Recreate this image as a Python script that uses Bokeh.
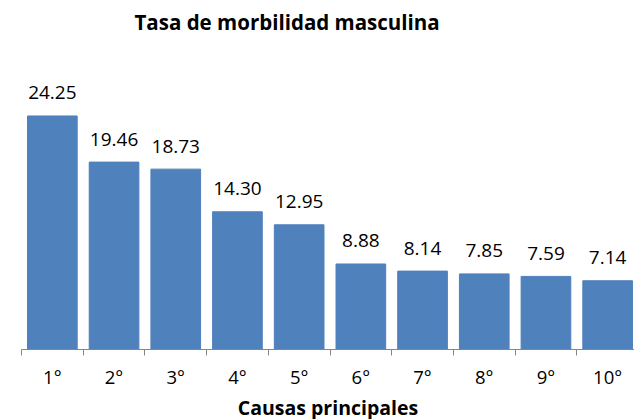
from bokeh.plotting import figure
from bokeh.models import ColumnDataSource, Range1d, FixedTicker
from bokeh.core.properties import value
from bokeh.embed import file_html
from bokeh.resources import INLINE

categories = ["1°", "2°", "3°", "4°", "5°", "6°", "7°", "8°", "9°", "10°"]
rates = [24.25, 19.46, 18.73, 14.30, 12.95, 8.88, 8.14, 7.85, 7.59, 7.14]
rate_labels = ["24.25", "19.46", "18.73", "14.30", "12.95", "8.88", "8.14", "7.85", "7.59", "7.14"]

FONT = "Open Sans"
centers = [i + 0.5 for i in range(len(categories))]
src = ColumnDataSource(dict(x=centers, top=rates, lbl=rate_labels))

W, H = 634, 419
left, top_b, bottom_b = 21, 39, 71
frame_h = H - top_b - bottom_b
frame_w = W - left
cat_px = 61.7
px_per_unit = 9.63
p = figure(width=W, height=H, frame_width=frame_w, frame_height=frame_h,
           output_backend="svg", toolbar_location=None,
           x_range=Range1d(0, frame_w / cat_px), y_range=Range1d(0, frame_h / px_per_unit),
           y_axis_location=None, min_border_left=left, min_border_right=0,
           min_border_top=top_b, min_border_bottom=bottom_b,
           title="Tasa de morbilidad masculina")
p.outline_line_color = None
p.xgrid.visible = False
p.ygrid.visible = False
p.background_fill_color = "white"

p.title.text_font = FONT
p.title.text_font_size = "20.5px"
p.title.text_font_style = "bold"
p.title.align = "left"
p.title.offset = 134 - left
p.title.text_color = "black"

p.vbar(x="x", top="top", width=0.805, bottom=0, source=src,
       fill_color="#4F81BD", line_color="#4F81BD")
p.text(x="x", y="top", text="lbl", source=src, text_align="center",
       text_baseline="alphabetic", y_offset=-23, text_font=value(FONT),
       text_font_size="19px", text_color="black")

ax = p.xaxis[0]
ax.ticker = FixedTicker(ticks=centers, minor_ticks=list(range(len(categories) + 1)))
ax.major_label_overrides = {c: lab for c, lab in zip(centers, categories)}
ax.major_tick_out = 0
ax.major_tick_in = 0
ax.minor_tick_out = 6
ax.minor_tick_in = 0
ax.axis_line_color = "#868686"
ax.minor_tick_line_color = "#868686"
ax.major_label_text_font = FONT
ax.major_label_text_font_size = "18.5px"
ax.major_label_text_color = "black"
ax.major_label_standoff = 8
ax.axis_label = "Causas principales"
ax.axis_label_text_font = FONT
ax.axis_label_text_font_size = "19.5px"
ax.axis_label_text_font_style = "bold"
ax.axis_label_text_color = "black"
ax.axis_label_standoff = 2

open("out.html", "w").write(file_html(p, INLINE))
